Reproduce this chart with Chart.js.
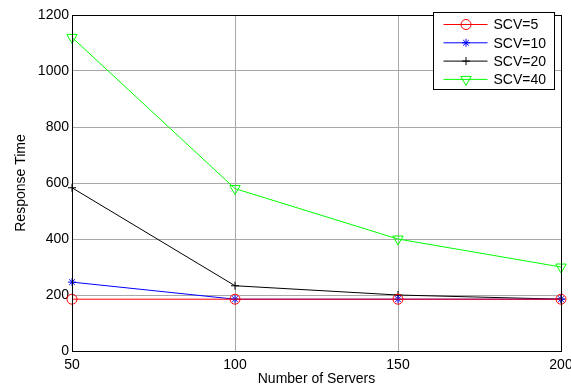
<!DOCTYPE html>
<html>
<head>
<meta charset="utf-8">
<script src="https://cdn.jsdelivr.net/npm/chart.js@4/dist/chart.umd.min.js"></script>
<style>
  html, body { margin: 0; padding: 0; background: #fff; }
  #wrap { width: 571px; height: 388px; }
</style>
</head>
<body>
<div id="wrap"><canvas id="chart" width="571" height="388"></canvas></div>
<script>
const servers = [50, 100, 150, 200];
const scv5 = [185, 185, 185, 185];
const scv10 = [246, 185, 185, 185];
const scv20 = [583, 233, 200, 185];
const scv40 = [1120, 580, 400, 300];
const xTicks = [50, 100, 150, 200];
const yTicks = [0, 200, 400, 600, 800, 1000, 1200];

const FONT = "'Liberation Sans', Arial, sans-serif";

function toPoints(ys) {
  return servers.map((x, i) => ({ x: x, y: ys[i] }));
}

const series = [
  { label: "SCV=5", data: scv5, color: "#ff0000", style: "circle", radius: 5, rot: 0 },
  { label: "SCV=10", data: scv10, color: "#0000ff", style: "star", radius: 4, rot: 0 },
  { label: "SCV=20", data: scv20, color: "#000000", style: "cross", radius: 4, rot: 0 },
  { label: "SCV=40", data: scv40, color: "#00ff00", style: "triangle", radius: 6, rot: 180 }
];

// box around the plot area, plus legend inside it
const boxAndLegend = {
  id: "boxAndLegend",
  afterDatasetsDraw(chart) {
    const { ctx, chartArea: a } = chart;
    ctx.save();
    ctx.strokeStyle = "#000";
    ctx.lineWidth = 1;
    ctx.strokeRect(Math.round(a.left) + 0.5, Math.round(a.top) + 0.5,
      Math.round(a.right - a.left), Math.round(a.bottom - a.top));

    // legend
    const lx = 433.5, ly = 12.5, lw = 121, lh = 77;
    ctx.fillStyle = "#fff";
    ctx.fillRect(lx, ly, lw, lh);
    ctx.strokeRect(lx, ly, lw, lh);
    ctx.font = "14px " + FONT;
    ctx.textBaseline = "middle";
    series.forEach((s, i) => {
      const y = ly + 12 + i * 18.3;
      ctx.strokeStyle = s.color;
      ctx.lineWidth = 1;
      ctx.beginPath();
      ctx.moveTo(lx + 10, y);
      ctx.lineTo(lx + 54, y);
      ctx.stroke();
      ctx.fillStyle = "rgba(0,0,0,0)";
      Chart.helpers.drawPoint(ctx, {
        pointStyle: s.style, radius: s.radius, rotation: s.rot, borderWidth: 1
      }, lx + 32.5, y);
      ctx.fillStyle = "#000";
      ctx.fillText(s.label, lx + 60, y + 1);
    });
    ctx.restore();
  }
};

new Chart(document.getElementById("chart"), {
  type: "line",
  data: {
    datasets: series.map(s => ({
      label: s.label,
      data: toPoints(s.data),
      borderColor: s.color,
      backgroundColor: "transparent",
      borderWidth: 1,
      pointStyle: s.style,
      pointRadius: s.radius,
      pointRotation: s.rot,
      pointBorderColor: s.color,
      pointBackgroundColor: "transparent",
      pointBorderWidth: 1,
      tension: 0,
      clip: false
    }))
  },
  options: {
    responsive: false,
    animation: false,
    layout: { padding: { top: 15, right: 10, left: 0, bottom: 0 } },
    plugins: { legend: { display: false }, tooltip: { enabled: false } },
    scales: {
      x: {
        type: "linear",
        min: 50,
        max: 200,
        afterBuildTicks(axis) { axis.ticks = xTicks.map(v => ({ value: v })); },
        afterFit(axis) {
          axis.height = 37;
          axis.paddingLeft = 0;
          axis.paddingRight = 0;
        },
        grid: { color: "#a8a8a8", lineWidth: 1, drawTicks: false },
        border: { color: "#000" },
        ticks: { color: "#000", padding: 6, maxRotation: 0, font: { family: FONT, size: 14 } },
        title: {
          display: true,
          text: "Number of Servers",
          color: "#000",
          padding: { top: 0, bottom: 0 },
          font: { family: FONT, size: 14 }
        }
      },
      y: {
        min: 0,
        max: 1200,
        afterBuildTicks(axis) { axis.ticks = yTicks.map(v => ({ value: v })); },
        afterFit(axis) {
          axis.width = 72;
          axis.paddingTop = 0;
          axis.paddingBottom = 0;
        },
        grid: { color: "#a8a8a8", lineWidth: 1, drawTicks: false },
        border: { color: "#000" },
        ticks: {
          color: "#000",
          padding: 3,
          font: { family: FONT, size: 14 },
          callback: v => String(v)
        },
        title: {
          display: true,
          text: "Response Time",
          color: "#000",
          padding: { top: 13, bottom: 0 },
          font: { family: FONT, size: 14 }
        }
      }
    }
  },
  plugins: [boxAndLegend]
});
</script>
</body>
</html>
